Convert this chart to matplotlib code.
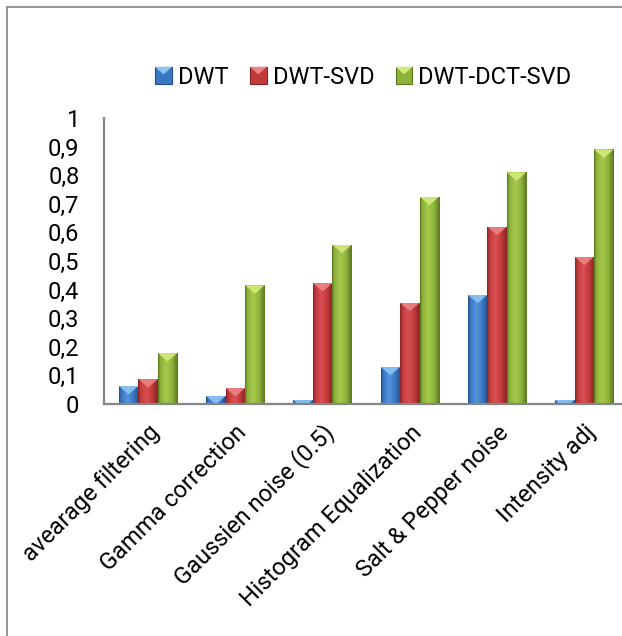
import numpy as np
import matplotlib
matplotlib.use("Agg")
import matplotlib.pyplot as plt
from matplotlib.colors import LinearSegmentedColormap
from matplotlib.patches import Polygon, Rectangle
from matplotlib.legend_handler import HandlerPatch
from matplotlib.lines import Line2D
import matplotlib.transforms as mtransforms

categories = ["avearage filtering", "Gamma correction", "Gaussien noise (0.5)",
              "Histogram Equalization", "Salt & Pepper noise", "Intensity adj"]
series_names = ["DWT", "DWT-SVD", "DWT-DCT-SVD"]
dwt = [0.063, 0.028, 0.014, 0.130, 0.382, 0.014]
dwt_svd = [0.087, 0.056, 0.423, 0.354, 0.620, 0.515]
dwt_dct_svd = [0.178, 0.415, 0.557, 0.725, 0.810, 0.890]
y_ticks = [0, 0.1, 0.2, 0.3, 0.4, 0.5, 0.6, 0.7, 0.8, 0.9, 1]
y_tick_labels = ["0", "0,1", "0,2", "0,3", "0,4", "0,5", "0,6", "0,7", "0,8", "0,9", "1"]

# bevel palette: (dark edge, base, light centre, top facet)
palettes = [
    ("#22508a", "#3a78c3", "#5593dd", "#8cc4f6"),
    ("#862222", "#c23a3c", "#d95052", "#ec8484"),
    ("#5c7620", "#8db33a", "#a6ca4c", "#d2ea7c"),
]

FONT = "Roboto"
FS = 17
W, H = 622, 636
fig = plt.figure(figsize=(W / 100, H / 100), dpi=100)
ax = fig.add_axes([104.5 / W, 1 - 404 / H, 523.5 / W, 286 / H])
ax.set_xlim(-0.5, 5.5)
ax.set_ylim(0, 1)

px_per_unit_y = 286.0
tri_depth = 8.5 / px_per_unit_y

x = np.arange(len(categories))
width = 0.2235
grad = np.linspace(0, 1, 64).reshape(1, -1)

for i, (vals, pal) in enumerate(zip([dwt, dwt_svd, dwt_dct_svd], palettes)):
    dark, base, light, top = pal
    cmap = LinearSegmentedColormap.from_list(
        f"bevel{i}", [(0, dark), (0.12, base), (0.42, light), (0.72, base), (1, dark)])
    bars = ax.bar(x + (i - 1) * width, vals, width, color=base, edgecolor="none", zorder=2)
    for b in bars:
        x0, y0, w, h = b.get_x(), b.get_y(), b.get_width(), b.get_height()
        im = ax.imshow(grad, extent=(x0, x0 + w, y0, y0 + h), aspect="auto",
                       cmap=cmap, interpolation="bilinear", zorder=3)
        im.set_clip_path(b)
        top_y = y0 + h
        tri = Polygon([(x0, top_y), (x0 + w, top_y), (x0 + w / 2, top_y - tri_depth)],
                      closed=True, facecolor=top, edgecolor="none", zorder=4, alpha=0.9)
        ax.add_patch(tri)
        tri.set_clip_path(b)

ax.set_xlim(-0.5, 5.5)
ax.set_ylim(0, 1)

for side in ("top", "right"):
    ax.spines[side].set_visible(False)
for side in ("left", "bottom"):
    ax.spines[side].set_color("#868686")
    ax.spines[side].set_linewidth(1.6)
    ax.spines[side].set_zorder(5)

ax.set_yticks(y_ticks)
ax.set_yticklabels(y_tick_labels, fontfamily=FONT, fontsize=FS)
ax.tick_params(axis="y", length=0, pad=18, labelcolor="#000000")

ax.set_xticks(x)
ax.set_xticklabels(categories, fontfamily=FONT, fontsize=FS, rotation=45,
                   ha="right", va="center", rotation_mode="anchor")
ax.tick_params(axis="x", length=0, pad=18)
offset = mtransforms.ScaledTranslation(8 / 100, 0, fig.dpi_scale_trans)
for lab in ax.get_xticklabels():
    lab.set_transform(lab.get_transform() + offset)


class BevelHandler(HandlerPatch):
    def __init__(self, pal):
        super().__init__()
        self.pal = pal

    def create_artists(self, legend, orig_handle, xdescent, ydescent, width, height, fontsize, trans):
        dark, base, light, top = self.pal
        s = min(width, height)
        x0 = -xdescent + (width - s) / 2
        y0 = -ydescent + (height - s) / 2
        sq = Rectangle((x0, y0), s, s, facecolor=base, edgecolor=dark, lw=0.8, transform=trans)
        tri = Polygon([(x0, y0 + s), (x0 + s, y0 + s), (x0 + s / 2, y0 + s * 0.55)],
                      closed=True, facecolor=top, edgecolor="none", transform=trans)
        return [sq, tri]


handles = [Rectangle((0, 0), 1, 1, facecolor=p[1]) for p in palettes]
leg = fig.legend(handles, series_names, loc="center left",
                 bbox_to_anchor=(155 / W, 1 - 77 / H), ncol=3, frameon=False,
                 prop={"family": FONT, "size": FS},
                 handler_map={h: BevelHandler(p) for h, p in zip(handles, palettes)},
                 handlelength=0.72, handleheight=0.72, handletextpad=0.25,
                 columnspacing=0.9, borderaxespad=0, borderpad=0)

# outer chart frame (left and top edges)
fig.add_artist(Line2D([6.5 / W, 6.5 / W], [0, 1 - 6.5 / H], transform=fig.transFigure,
                      color="#8c8c8c", lw=1.3))
fig.add_artist(Line2D([6.5 / W, 1], [1 - 6.5 / H, 1 - 6.5 / H], transform=fig.transFigure,
                      color="#8c8c8c", lw=1.3))

fig.savefig("out.png", dpi=100, facecolor="white")
